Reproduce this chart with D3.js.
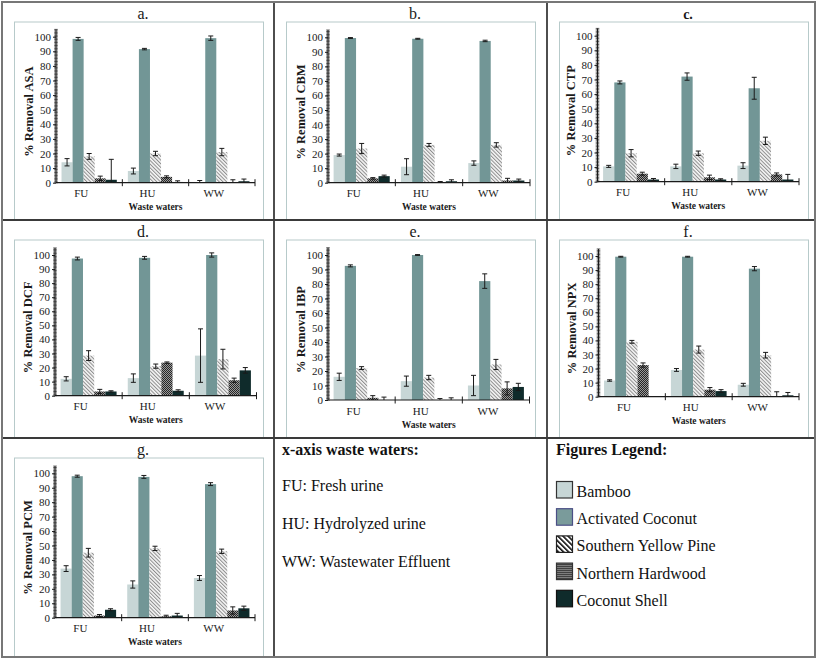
<!DOCTYPE html>
<html>
<head>
<meta charset="utf-8">
<script src="https://cdn.jsdelivr.net/npm/d3@7"></script>
<style>
  body { margin: 0; background: #fff; }
  svg { display: block; font-family: "Liberation Serif", "Times New Roman", serif; }
</style>
</head>
<body>
<svg id="chart" width="817" height="659"></svg>
<script>
// ============================================================
// Data (% removal per waste water / sorbent)
// ============================================================
const categories = ['FU', 'HU', 'WW'];
const sorbents = ['Bamboo', 'Activated Coconut', 'Southern Yellow Pine', 'Northern Hardwood', 'Coconut Shell'];
const compounds = ['ASA', 'CBM', 'CTP', 'DCF', 'IBP', 'NPX', 'PCM'];
const panelLetters = ['a.', 'b.', 'c.', 'd.', 'e.', 'f.', 'g.'];
const yTicks = [0, 10, 20, 30, 40, 50, 60, 70, 80, 90, 100];

// rows = FU, HU, WW ; columns = sorbents
const asaMean = [[14, 98.5, 18, 3, 2], [8, 91.5, 20, 4, 0.5], [0, 99, 21, 0, 1]];
const asaErr  = [[2.5, 1, 2, 1.5, 14], [2, 0.5, 1.5, 0.7, 0.8], [1.5, 1.5, 2.5, 2, 1.5]];
const cbmMean = [[19, 99.5, 23.5, 3, 4.5], [11, 99, 26, 0.5, 1], [13.5, 97.5, 26, 1.5, 1.5]];
const cbmErr  = [[0.7, 0.3, 3.5, 0.5, 0.7], [5.5, 0.3, 1, 0.3, 1], [1.5, 0.5, 1.5, 1.5, 1]];
const ctpMean = [[10.5, 68, 19.5, 5.5, 1.5], [10.5, 72, 19.5, 3, 1.5], [11, 64, 28, 5, 1.5]];
const ctpErr  = [[0.7, 1, 2.5, 1, 0.7], [1.5, 2.5, 1.5, 1.5, 0.5], [2, 7.5, 2.5, 1, 3.5]];
const dcfMean = [[12, 97.5, 28.5, 3, 3], [12.5, 98, 21, 23.5, 3.5], [28.5, 100, 26, 11, 18]];
const dcfErr  = [[1.5, 1, 3.5, 1.5, 0.5], [3, 1, 1.5, 0.5, 0.7], [19, 1.5, 7, 1.5, 2]];
const ibpMean = [[16, 92.5, 22, 1.5, 0], [13, 100, 15.5, 0, 0], [10, 82, 24.5, 8, 9]];
const ibpErr  = [[2.5, 0.7, 1, 1.5, 2], [3.5, 0.3, 1.5, 1, 1.5], [7, 5, 3.5, 4.5, 2.5]];
const npxMean = [[11.5, 99.5, 39, 22.5, 0], [19, 99.5, 33.5, 5, 4], [8.5, 91, 29.5, 0, 1]];
const npxErr  = [[0.5, 0.3, 1, 1.5, 0], [1, 0.3, 2.5, 1.5, 1], [1, 1.5, 2, 3.5, 2]];
const pcmMean = [[34, 98, 45, 1.5, 5.5], [23, 97.5, 48, 1, 1.5], [27.5, 92.5, 46, 5, 6.5]];
const pcmErr  = [[2, 0.7, 3, 0.7, 0.7], [2.5, 1, 1.5, 0.7, 1.5], [1.7, 1, 1.5, 2.5, 1.5]];

const panelMeans = [asaMean, cbmMean, ctpMean, dcfMean, ibpMean, npxMean, pcmMean];
const panelErrs = [asaErr, cbmErr, ctpErr, dcfErr, ibpErr, npxErr, pcmErr];

const wasteNotes = ['FU: Fresh urine', 'HU: Hydrolyzed urine', 'WW: Wastewater Effluent'];

// ============================================================
// Layout
// ============================================================
const colEdges = [2, 274, 547, 815];
const rowEdges = [2, 220, 438, 657];
// per panel, relative to its cell: axis left, axis right, y of 100, y of 0
const panelLayout = [
    [54, 253, 34.7, 180.7],
    [54, 256, 35.3, 180.7],
    [50.5, 252, 33.7, 179.7],
    [53, 254.5, 35, 175.7],
    [54, 255.5, 35, 180],
    [51.5, 252, 36, 176.7],
    [53, 253, 35.3, 179.7]
];

const FILLS = ['#c7d6d6', '#729696', 'url(#hatch)', 'url(#cross)', '#0f2b2b'];
const INK = '#1a1a1a';

const svg = d3.select('#chart');
const defs = svg.append('defs');

// Southern Yellow Pine: fine diagonal hatch
const hatch = defs.append('pattern')
    .attr('id', 'hatch').attr('patternUnits', 'userSpaceOnUse')
    .attr('width', 2.6).attr('height', 2.6)
    .attr('patternTransform', 'rotate(-45)');
hatch.append('rect').attr('width', 2.6).attr('height', 2.6).attr('fill', '#f6f6f6');
hatch.append('rect').attr('width', 1).attr('height', 2.6).attr('fill', '#8c8c8c');

// Northern Hardwood: dark crosshatch
const cross = defs.append('pattern')
    .attr('id', 'cross').attr('patternUnits', 'userSpaceOnUse')
    .attr('width', 2).attr('height', 2);
cross.append('rect').attr('width', 2).attr('height', 2).attr('fill', '#9a9a9a');
cross.append('rect').attr('width', 1).attr('height', 1).attr('fill', '#262626');
cross.append('rect').attr('x', 1).attr('y', 1).attr('width', 1).attr('height', 1).attr('fill', '#262626');

// bolder versions for the legend swatches
const hatchL = defs.append('pattern')
    .attr('id', 'hatchL').attr('patternUnits', 'userSpaceOnUse')
    .attr('width', 3.6).attr('height', 3.6)
    .attr('patternTransform', 'rotate(-45)');
hatchL.append('rect').attr('width', 3.6).attr('height', 3.6).attr('fill', '#fff');
hatchL.append('rect').attr('width', 1.6).attr('height', 3.6).attr('fill', '#111');

const crossL = defs.append('pattern')
    .attr('id', 'crossL').attr('patternUnits', 'userSpaceOnUse')
    .attr('width', 2).attr('height', 2);
crossL.append('rect').attr('width', 2).attr('height', 2).attr('fill', '#3a3a3a');
crossL.append('rect').attr('width', 1).attr('height', 1).attr('fill', '#d0d0d0');

// ============================================================
// Panels
// ============================================================
function drawPanel(i) {
    const col = i % 3, row = Math.floor(i / 3);
    const cx = colEdges[col], cy = rowEdges[row];
    const cellH = rowEdges[row + 1] - rowEdges[row];
    const mean = panelMeans[i], err = panelErrs[i];
    const [l, r, t100, b0] = panelLayout[i];

    const g = svg.append('g').attr('transform', `translate(${cx},${cy})`);

    // chart area frame
    g.append('rect')
        .attr('x', 12.5).attr('y', 20)
        .attr('width', 249).attr('height', cellH - 20)
        .attr('fill', 'none').attr('stroke', '#b7caca').attr('stroke-width', 1);

    // title
    g.append('text')
        .attr('x', 141).attr('y', 16.5)
        .attr('text-anchor', 'middle')
        .attr('font-size', i === 2 ? 14 : 16)
        .attr('font-weight', i === 2 ? 'bold' : 'normal')
        .attr('fill', INK)
        .text(panelLetters[i]);

    const y = d3.scaleLinear().domain([0, 100]).range([b0, t100]);
    const x0 = d3.scaleBand().domain(categories).range([l, r]).padding(0);
    const x1 = d3.scaleBand().domain(sorbents).range([0, x0.bandwidth()])
        .paddingInner(0).paddingOuter(0.5);

    // bars
    const rows = categories.flatMap((c, ci) => sorbents.map((s, si) => ({
        c, s, si, v: mean[ci][si], e: err[ci][si]
    })));

    g.append('g').selectAll('rect')
        .data(rows)
        .join('rect')
        .attr('x', d => x0(d.c) + x1(d.s))
        .attr('y', d => y(d.v))
        .attr('width', x1.bandwidth())
        .attr('height', d => y(0) - y(d.v))
        .attr('fill', d => FILLS[d.si]);

    // error bars
    const eb = g.append('g').attr('stroke', INK).attr('stroke-width', 1);
    rows.filter(d => d.e > 0).forEach(d => {
        const xc = x0(d.c) + x1(d.s) + x1.bandwidth() / 2;
        const lo = y(Math.max(0, d.v - d.e));
        const hi = y(d.v + d.e);
        eb.append('line').attr('x1', xc).attr('x2', xc).attr('y1', lo).attr('y2', hi);
        eb.append('line').attr('x1', xc - 2.5).attr('x2', xc + 2.5).attr('y1', hi).attr('y2', hi);
        if (d.v - d.e > 0) {
            eb.append('line').attr('x1', xc - 2.5).attr('x2', xc + 2.5).attr('y1', lo).attr('y2', lo);
        }
    });

    // y axis
    const yAxis = g.append('g')
        .attr('transform', `translate(${l},0)`)
        .call(d3.axisLeft(y).tickValues(yTicks).tickSize(3).tickPadding(2));
    yAxis.select('.domain').remove();
    yAxis.selectAll('line').attr('stroke', INK);
    yAxis.selectAll('text')
        .attr('font-family', '"Liberation Serif", serif')
        .attr('font-size', 11).attr('fill', INK);

    g.append('line')
        .attr('x1', l).attr('x2', l).attr('y1', y(0)).attr('y2', y(105))
        .attr('stroke', INK).attr('stroke-width', 1);
    g.append('g').selectAll('line')
        .data(d3.range(0, 106, 1))
        .join('line')
        .attr('x1', l - 1.8).attr('x2', l + 1.8)
        .attr('y1', d => y(d)).attr('y2', d => y(d))
        .attr('stroke', INK).attr('stroke-width', 0.7);

    // x axis
    g.append('line')
        .attr('x1', l).attr('x2', r).attr('y1', y(0)).attr('y2', y(0))
        .attr('stroke', INK).attr('stroke-width', 1.2);
    const bounds = categories.map(c => x0(c)).slice(1).concat([r]);
    g.append('g').selectAll('line')
        .data(bounds)
        .join('line')
        .attr('x1', d => d).attr('x2', d => d)
        .attr('y1', y(0) - 3.5).attr('y2', y(0) + 3.5)
        .attr('stroke', INK).attr('stroke-width', 1);

    g.append('g').selectAll('text')
        .data(categories)
        .join('text')
        .attr('x', d => x0(d) + x0.bandwidth() / 2 - 8)
        .attr('y', b0 + 14.5)
        .attr('text-anchor', 'middle')
        .attr('font-size', 11).attr('fill', INK)
        .text(d => d);

    g.append('text')
        .attr('x', (l + r) / 2).attr('y', b0 + 27.5)
        .attr('text-anchor', 'middle')
        .attr('font-size', 9.5).attr('font-weight', 'bold').attr('fill', INK)
        .text('Waste waters');

    g.append('text')
        .attr('transform', `translate(${l - 23},${(b0 + t100) / 2 + 2}) rotate(-90)`)
        .attr('text-anchor', 'middle')
        .attr('font-size', 12.5).attr('font-weight', 'bold').attr('fill', INK)
        .text('% Removal ' + compounds[i]);
}

compounds.forEach((c, i) => drawPanel(i));

// ============================================================
// Text cell: x-axis notes
// ============================================================
const notes = svg.append('g').attr('transform', `translate(${colEdges[1]},${rowEdges[2]})`);
notes.append('text')
    .attr('x', 8).attr('y', 17)
    .attr('font-size', 16).attr('font-weight', 'bold').attr('fill', '#111')
    .text('x-axis waste waters:');
notes.selectAll('.note')
    .data(wasteNotes)
    .join('text')
    .attr('class', 'note')
    .attr('x', 8).attr('y', (d, k) => 53 + k * 38)
    .attr('font-size', 16).attr('fill', '#111')
    .text(d => d);

// ============================================================
// Legend cell
// ============================================================
const LEGEND_FILLS = ['#c7d6d6', '#7a9b9b', 'url(#hatchL)', 'url(#crossL)', '#0f2b2b'];
const LEGEND_STROKES = ['#333', '#4b4f86', '#222', '#333', '#111'];
const leg = svg.append('g').attr('transform', `translate(${colEdges[2]},${rowEdges[2]})`);
leg.append('text')
    .attr('x', 9).attr('y', 17)
    .attr('font-size', 16).attr('font-weight', 'bold').attr('fill', '#111')
    .text('Figures Legend:');
const items = leg.selectAll('.item')
    .data(sorbents)
    .join('g')
    .attr('class', 'item')
    .attr('transform', (d, k) => `translate(9.5,${43.5 + k * 27.2})`);
items.append('rect')
    .attr('width', 16).attr('height', 16.5)
    .attr('fill', (d, k) => LEGEND_FILLS[k])
    .attr('stroke', (d, k) => LEGEND_STROKES[k]).attr('stroke-width', 1.2);
items.append('text')
    .attr('x', 20).attr('y', 15.5)
    .attr('font-size', 16).attr('fill', '#111')
    .text(d => d);

// ============================================================
// Table grid
// ============================================================
const grid = svg.append('g').attr('stroke', '#3a3a3a').attr('stroke-width', 1.8);
colEdges.slice(1, -1).forEach(x => {
    grid.append('line').attr('x1', x).attr('x2', x).attr('y1', rowEdges[0]).attr('y2', rowEdges[3]);
});
rowEdges.slice(1, -1).forEach(yv => {
    grid.append('line').attr('x1', colEdges[0]).attr('x2', colEdges[3]).attr('y1', yv).attr('y2', yv);
});
svg.append('rect')
    .attr('x', colEdges[0]).attr('y', rowEdges[0])
    .attr('width', colEdges[3] - colEdges[0]).attr('height', rowEdges[3] - rowEdges[0])
    .attr('fill', 'none').attr('stroke', '#777').attr('stroke-width', 2);
</script>
</body>
</html>
